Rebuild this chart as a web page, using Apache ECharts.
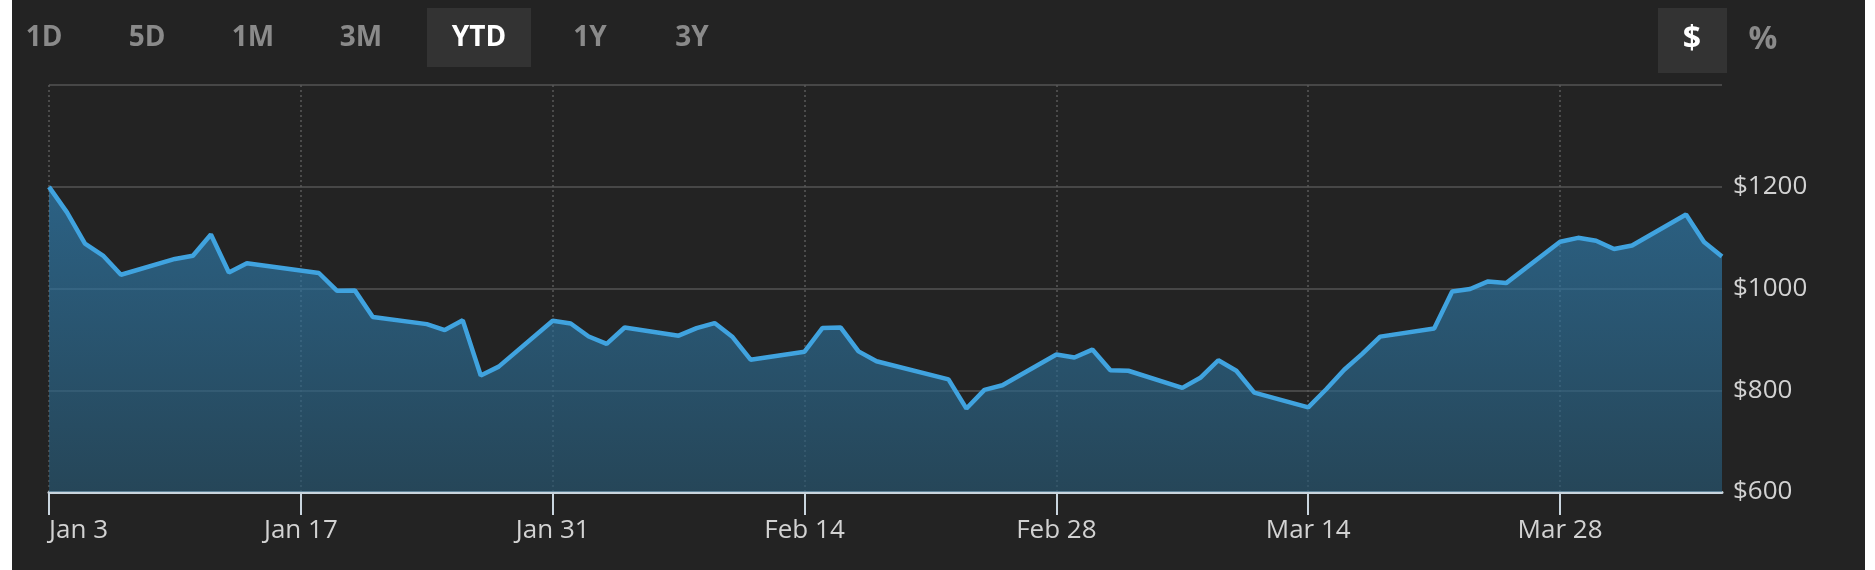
<!DOCTYPE html>
<html>
<head>
<meta charset="utf-8">
<script src="https://cdn.jsdelivr.net/npm/echarts@6/dist/echarts.min.js"></script>
<style>
  html, body { margin: 0; padding: 0; background: #ffffff; }
  #main {
    position: absolute; left: 0; top: 0; width: 1875px; height: 570px;
    background: linear-gradient(to right, #ffffff 0px, #ffffff 12px, #232323 12px, #232323 1865px, #ffffff 1865px);
  }
</style>
</head>
<body>
<div id="main"></div>
<script>
// ---- data ----
const dates = [
  '2022-01-03','2022-01-04','2022-01-05','2022-01-06','2022-01-07',
  '2022-01-10','2022-01-11','2022-01-12','2022-01-13','2022-01-14',
  '2022-01-18','2022-01-19','2022-01-20','2022-01-21',
  '2022-01-24','2022-01-25','2022-01-26','2022-01-27','2022-01-28',
  '2022-01-31','2022-02-01','2022-02-02','2022-02-03','2022-02-04',
  '2022-02-07','2022-02-08','2022-02-09','2022-02-10','2022-02-11',
  '2022-02-14','2022-02-15','2022-02-16','2022-02-17','2022-02-18',
  '2022-02-22','2022-02-23','2022-02-24','2022-02-25',
  '2022-02-28','2022-03-01','2022-03-02','2022-03-03','2022-03-04',
  '2022-03-07','2022-03-08','2022-03-09','2022-03-10','2022-03-11',
  '2022-03-14','2022-03-15','2022-03-16','2022-03-17','2022-03-18',
  '2022-03-21','2022-03-22','2022-03-23','2022-03-24','2022-03-25',
  '2022-03-28','2022-03-29','2022-03-30','2022-03-31','2022-04-01',
  '2022-04-04','2022-04-05','2022-04-06'
];
const prices = [
  1199.8, 1149.6, 1088.1, 1064.7, 1027.0,
  1058.1, 1064.4, 1106.2, 1031.6, 1049.6,
  1030.5, 995.7, 996.3, 943.9,
  930.0, 918.4, 937.4, 829.1, 846.4,
  936.7, 931.3, 905.7, 891.1, 923.3,
  907.3, 922.0, 932.0, 904.6, 860.0,
  875.8, 922.4, 923.4, 876.4, 857.0,
  821.5, 764.0, 800.8, 809.9,
  870.4, 864.4, 879.9, 839.3, 838.3,
  804.6, 824.4, 859.0, 838.3, 795.4,
  766.4, 801.9, 840.2, 871.6, 905.4,
  921.2, 994.0, 999.1, 1013.9, 1010.6,
  1091.8, 1099.6, 1094.0, 1077.6, 1084.6,
  1145.5, 1091.3, 1063.0
];
const startDate = '2022-01-03';
const endDate = '2022-04-06';
const tickLabels = ['Jan 3','Jan 17','Jan 31','Feb 14','Feb 28','Mar 14','Mar 28'];
const rangeButtons = ['1D','5D','1M','3M','YTD','1Y','3Y'];
const selectedRange = 'YTD';
const unitButtons = ['$','%'];
const selectedUnit = '$';

// ---- helpers ----
const DAY = 86400000;
function dayOffset(s) {
  const p = s.split('-').map(Number);
  const q = startDate.split('-').map(Number);
  return Math.round((Date.UTC(p[0], p[1]-1, p[2]) - Date.UTC(q[0], q[1]-1, q[2])) / DAY);
}
const seriesData = dates.map((d, i) => [dayOffset(d), prices[i]]);
const xMax = dayOffset(endDate);
const tickStep = 14;
const tickValues = tickLabels.map((_, i) => i * tickStep);

const FONT = "'Open Sans', 'Noto Sans', sans-serif";

// button positions (layout)
const rangeX = [44, 147, 253, 361, 479, 590, 692];
const unitX = [1692, 1763];

const graphics = [
  { type: 'rect', shape: { x: 427, y: 8, width: 104, height: 59 }, style: { fill: '#333333' }, silent: true },
  { type: 'rect', shape: { x: 1658, y: 8, width: 69, height: 65 }, style: { fill: '#333333' }, silent: true }
];
rangeButtons.forEach((t, i) => {
  graphics.push({
    type: 'text', x: rangeX[i], y: 38, silent: true,
    style: {
      text: t, fill: t === selectedRange ? '#ffffff' : '#8a8a8a',
      font: 'bold 28px ' + FONT, align: 'center', verticalAlign: 'middle'
    }
  });
});
unitButtons.forEach((t, i) => {
  graphics.push({
    type: 'text', x: unitX[i], y: 40, silent: true,
    style: {
      text: t, fill: t === selectedUnit ? '#ffffff' : '#8a8a8a',
      font: 'bold 32px ' + FONT, align: 'center', verticalAlign: 'middle'
    }
  });
});

const chart = echarts.init(document.getElementById('main'), null, { renderer: 'canvas' });
chart.setOption({
  backgroundColor: 'transparent',
  animation: false,
  graphic: graphics,
  grid: { left: 49, right: 153, top: 85, bottom: 78, containLabel: false },
  xAxis: {
    type: 'value',
    min: 0,
    max: xMax,
    interval: tickStep,
    axisLine: { show: true, lineStyle: { color: '#c9d5de', width: 3 } },
    axisTick: { show: true, length: 23, customValues: tickValues, lineStyle: { color: '#c9d5de', width: 2 } },
    axisLabel: {
      show: true,
      customValues: tickValues,
      alignMinLabel: 'left',
      margin: 26,
      color: '#d2d2d2',
      fontSize: 26,
      fontFamily: FONT,
      formatter: v => tickLabels[Math.round(v / tickStep)] || ''
    },
    splitLine: { show: true, customValues: tickValues, lineStyle: { color: '#5a5a5a', width: 1.5, type: [2, 3] } }
  },
  yAxis: {
    type: 'value',
    position: 'right',
    min: 600,
    max: 1400,
    interval: 200,
    axisLine: { show: false },
    axisTick: { show: false },
    axisLabel: {
      margin: 11,
      color: '#d2d2d2',
      fontSize: 26,
      fontFamily: FONT,
      formatter: v => (v >= 1400 ? '' : '$' + v)
    },
    splitLine: { show: true, lineStyle: { color: '#474747', width: 2 } }
  },
  series: [{
    type: 'line',
    data: seriesData,
    symbol: 'none',
    smooth: false,
    lineStyle: { color: '#40a3df', width: 4.5 },
    areaStyle: {
      origin: 'start',
      color: {
        type: 'linear', x: 0, y: 0, x2: 0, y2: 1,
        colorStops: [
          { offset: 0, color: 'rgba(48,130,183,0.94)' },
          { offset: 1, color: 'rgba(39,88,116,0.94)' }
        ]
      }
    }
  }]
});
</script>
</body>
</html>
